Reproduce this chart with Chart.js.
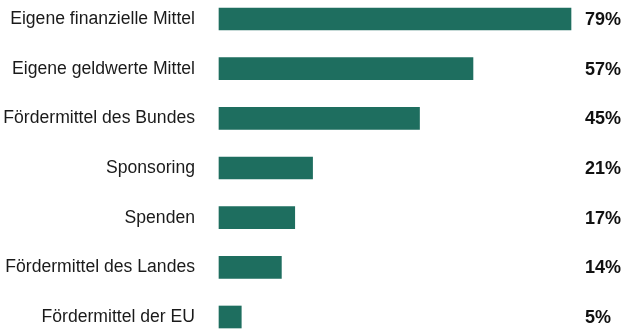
<!DOCTYPE html>
<html>
<head>
<meta charset="utf-8">
<script src="https://cdn.jsdelivr.net/npm/chart.js@4"></script>
<style>
  html, body { margin: 0; padding: 0; background: #fff; }
  #wrap { width: 624px; height: 329px; }
</style>
</head>
<body>
<div id="wrap"><canvas id="finanzierung"></canvas></div>
<script>
const categories = [
    "Eigene finanzielle Mittel",
    "Eigene geldwerte Mittel",
    "Fördermittel des Bundes",
    "Sponsoring",
    "Spenden",
    "Fördermittel des Landes",
    "Fördermittel der EU"
]
const shares = [79, 57, 45, 21, 17, 14, 5]

const barColor = "#1e6e5f"
const fontFamily = "'Liberation Sans', Arial, sans-serif"

// prints the percentage right of the plot area
const valueLabels = {
    id: "valueLabels",
    afterDatasetsDraw(chart) {
        const ctx = chart.ctx
        const meta = chart.getDatasetMeta(0)
        ctx.save()
        ctx.font = "bold 18px " + fontFamily
        ctx.fillStyle = "#111"
        ctx.textAlign = "left"
        ctx.textBaseline = "middle"
        meta.data.forEach((bar, i) => {
            ctx.fillText(shares[i] + "%", chart.chartArea.right + 14, bar.y + 1)
        })
        ctx.restore()
    }
}

new Chart(document.getElementById("finanzierung"), {
    type: "bar",
    data: {
        labels: categories,
        datasets: [{
            data: shares,
            backgroundColor: barColor,
            barThickness: 22,
            clip: false
        }]
    },
    options: {
        indexAxis: "y",
        responsive: true,
        maintainAspectRatio: false,
        animation: false,
        layout: { padding: { top: 19, bottom: 12, left: 0, right: 53 } },
        plugins: {
            legend: { display: false },
            tooltip: { enabled: false }
        },
        scales: {
            x: {
                display: false,
                min: 0,
                max: 79
            },
            y: {
                offset: false,
                border: { display: false },
                grid: { display: false, drawTicks: false },
                afterFit(scale) {
                    // fixed label column, no extra room above/below for the labels
                    scale.width = 219
                    scale.paddingTop = 0
                    scale.paddingBottom = 0
                },
                ticks: {
                    padding: 24,
                    color: "#1a1a1a",
                    font: { family: fontFamily, size: 17.6 }
                }
            }
        }
    },
    plugins: [valueLabels]
});
</script>
</body>
</html>
